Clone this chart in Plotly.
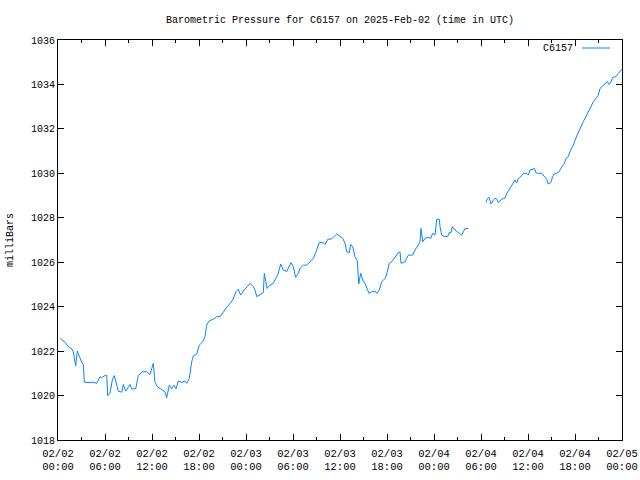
import plotly.graph_objects as go
import pandas as pd

# hours since 2025-02-02 00:00 UTC (None marks a data gap)
hours = [0.29, 0.89, 1.31, 1.75, 1.95, 2.26, 2.46, 2.68, 3.03, 3.23, 3.36, 4.09, 4.51, 4.94, 5.36, 5.58,
         6.0, 6.22, 6.34, 6.64, 6.93, 7.19, 7.49, 7.7, 8.13, 8.34, 8.64, 8.97, 9.19, 9.41, 9.92, 10.25,
         10.76, 11.32, 11.74, 12.17, 12.38, 12.68, 13.24, 13.66, 13.88, 14.08, 14.21, 14.52, 14.81, 15.06,
         15.36, 15.79, 16.21, 16.43, 16.76, 17.07, 17.27, 17.71, 18.04, 18.47, 18.77, 18.98, 19.32, 19.83,
         20.26, 20.68, 21.1, 21.54, 21.96, 22.3, 22.72, 23.02, 23.32, 23.74, 24.17, 24.51, 24.93, 25.15,
         25.37, 25.66, 26.21, 26.34, 26.52, 26.68, 27.07, 27.49, 27.92, 28.12, 28.43, 28.76, 29.2, 29.74,
         30.04, 30.34, 30.68, 30.89, 31.32, 31.75, 32.17, 32.59, 33.03, 33.32, 33.87, 34.09, 34.43, 34.94,
         35.58, 36.0, 36.35, 36.64, 36.86, 37.19, 37.37, 37.62, 37.91, 38.21, 38.26, 38.39, 38.64, 38.9,
         39.19, 39.49, 39.7, 40.05, 40.47, 40.69, 41.02, 41.32, 41.75, 41.96, 42.29, 42.6, 43.02, 43.44,
         43.66, 43.79, 44.3, 44.72, 45.28, 45.58, 46.0, 46.21, 46.34, 46.56, 46.85, 47.27, 47.58, 47.83,
         48.13, 48.35, 48.68, 48.77, 48.98, 49.32, 49.75, 49.92, 50.17, 50.34, 50.68, 51.03, 51.32, 51.54,
         51.74, 51.96, 52.38,
         None,
         54.64, 54.81, 55.02, 55.28, 55.57, 55.79, 56.0, 56.21, 56.52, 56.85, 57.06, 57.28, 57.58, 57.92,
         58.13, 58.34, 58.56, 58.76, 59.11, 59.4, 59.83, 60.04, 60.26, 60.68, 60.81, 61.02, 61.32, 61.75,
         62.04, 62.39, 62.59, 62.9, 63.15, 63.32, 63.66, 64.0, 64.18, 64.43, 64.64, 64.85, 65.14, 65.36,
         65.78, 66.22, 66.64, 67.06, 67.49, 67.92, 68.34, 68.77, 68.98, 69.19, 69.54, 69.96, 70.12, 70.34,
         70.6, 70.81, 71.23, 71.53, 71.84, 71.97]

pressure = [1022.58, 1022.4, 1022.2, 1022.1, 1021.97, 1021.33, 1022.0, 1021.8, 1021.5, 1021.4, 1020.6, 1020.58,
            1020.6, 1020.55, 1020.85, 1020.8, 1020.9, 1020.9, 1020.0, 1020.1, 1020.7, 1020.9, 1020.5, 1020.2,
            1020.15, 1020.5, 1020.2, 1020.4, 1020.5, 1020.3, 1020.3, 1020.9, 1021.07, 1021.07, 1020.95, 1021.45,
            1020.6, 1020.4, 1020.28, 1020.17, 1019.9, 1020.3, 1020.47, 1020.3, 1020.47, 1020.3, 1020.65, 1020.6,
            1020.65, 1020.55, 1020.77, 1021.52, 1021.78, 1021.87, 1022.27, 1022.42, 1022.65, 1023.17, 1023.37,
            1023.43, 1023.55, 1023.55, 1023.77, 1023.97, 1024.15, 1024.3, 1024.67, 1024.78, 1024.52, 1024.75,
            1024.9, 1025.05, 1024.9, 1024.75, 1024.45, 1024.52, 1024.63, 1025.5, 1025.2, 1024.82, 1024.97,
            1025.05, 1025.35, 1025.5, 1025.92, 1025.65, 1025.58, 1025.98, 1025.8, 1025.32, 1025.5, 1025.72,
            1025.87, 1025.87, 1026.02, 1026.17, 1026.55, 1026.88, 1026.88, 1026.8, 1027.03, 1027.05, 1027.27,
            1027.15, 1027.08, 1026.85, 1026.47, 1026.43, 1026.8, 1026.7, 1026.25, 1026.07, 1025.58, 1025.02,
            1025.5, 1025.2, 1025.05, 1024.82, 1024.6, 1024.67, 1024.7, 1024.6, 1024.75, 1025.12, 1025.27,
            1025.47, 1025.95, 1026.02, 1026.25, 1026.43, 1026.47, 1025.95, 1026.02, 1026.32, 1026.32, 1026.55,
            1026.77, 1026.92, 1027.52, 1026.92, 1027.07, 1027.12, 1027.07, 1027.3, 1027.22, 1027.93, 1027.93,
            1027.6, 1027.22, 1027.15, 1027.15, 1027.33, 1027.33, 1027.6, 1027.45, 1027.37, 1027.27, 1027.22,
            1027.37, 1027.52, 1027.52,
            None,
            1028.68, 1028.87, 1028.92, 1028.62, 1028.8, 1028.87, 1028.85, 1028.68, 1028.8, 1028.87, 1028.87,
            1029.1, 1029.25, 1029.43, 1029.55, 1029.7, 1029.58, 1029.77, 1029.85, 1030.0, 1030.0, 1029.92,
            1030.15, 1030.18, 1030.22, 1030.03, 1030.0, 1030.0, 1029.88, 1029.73, 1029.52, 1029.58, 1029.85,
            1029.97, 1030.0, 1030.08, 1030.22, 1030.33, 1030.45, 1030.67, 1030.75, 1030.97, 1031.27, 1031.68,
            1032.02, 1032.33, 1032.62, 1032.92, 1033.22, 1033.42, 1033.52, 1033.82, 1033.93, 1034.05, 1034.12,
            1034.0, 1034.12, 1034.32, 1034.35, 1034.5, 1034.65, 1034.68]

series_name = "C6157"
LINE_COLOR = "#0a84ff"

start = pd.Timestamp("2025-02-02 00:00")
times = [None if h is None else start + pd.Timedelta(hours=h) for h in hours]

FONT = "Liberation Mono"
fig = go.Figure()
fig.add_trace(go.Scatter(x=times, y=pressure, mode="lines", name=series_name,
                         line=dict(color=LINE_COLOR, width=1), connectgaps=False, showlegend=False))

fig.update_layout(
    width=640, height=480,
    margin=dict(l=58, r=18, t=40, b=40, autoexpand=False),
    paper_bgcolor="white", plot_bgcolor="white",
    font=dict(family=FONT, size=10, color="black"),
    title=dict(text="Barometric Pressure for C6157 on 2025-Feb-02 (time in UTC)",
               xref="paper", x=0.5, xanchor="center", y=1 - 19 / 480, yanchor="middle",
               font=dict(family=FONT, size=10, color="black")),
    showlegend=False,
)
fig.update_xaxes(
    type="date", range=["2025-02-02 00:00", "2025-02-05 00:00"], automargin=False,
    dtick=6 * 3600 * 1000, tick0="2025-02-02 00:00", tickformat="%m/%d<br>%H:%M",
    ticks="inside", ticklen=6, tickcolor="black", showline=True, linecolor="black", linewidth=1,
    mirror="ticks", showgrid=False, zeroline=False, ticklabelstandoff=3,
    tickfont=dict(family=FONT, size=10.5, color="black"),
    minor=dict(dtick=3 * 3600 * 1000, ticks="inside", ticklen=3, tickcolor="black", showgrid=False),
)
fig.update_yaxes(
    range=[1018, 1036], dtick=2, tick0=1018, automargin=False,
    ticks="inside", ticklen=6, tickcolor="black", showline=True, linecolor="black", linewidth=1,
    mirror="ticks", showgrid=False, zeroline=False,
)
fig.add_annotation(text="milliBars", xref="paper", yref="paper", x=-0.085, y=0.5,
                   xanchor="center", yanchor="middle",
                   textangle=-90, showarrow=False, font=dict(family=FONT, size=10, color="black"))

# legend key (text left of sample line, as in the reference)
fig.add_annotation(text=series_name, xref="paper", yref="paper", x=(575 - 58) / 564, y=(440 - 49) / 400,
                   xanchor="right", yanchor="middle", showarrow=False,
                   font=dict(family=FONT, size=10, color="black"))
fig.add_shape(type="line", xref="paper", yref="paper",
              x0=(582 - 58) / 564, x1=(610 - 58) / 564, y0=(440 - 48) / 400, y1=(440 - 48) / 400,
              line=dict(color=LINE_COLOR, width=1))

fig.write_html("out.html")
